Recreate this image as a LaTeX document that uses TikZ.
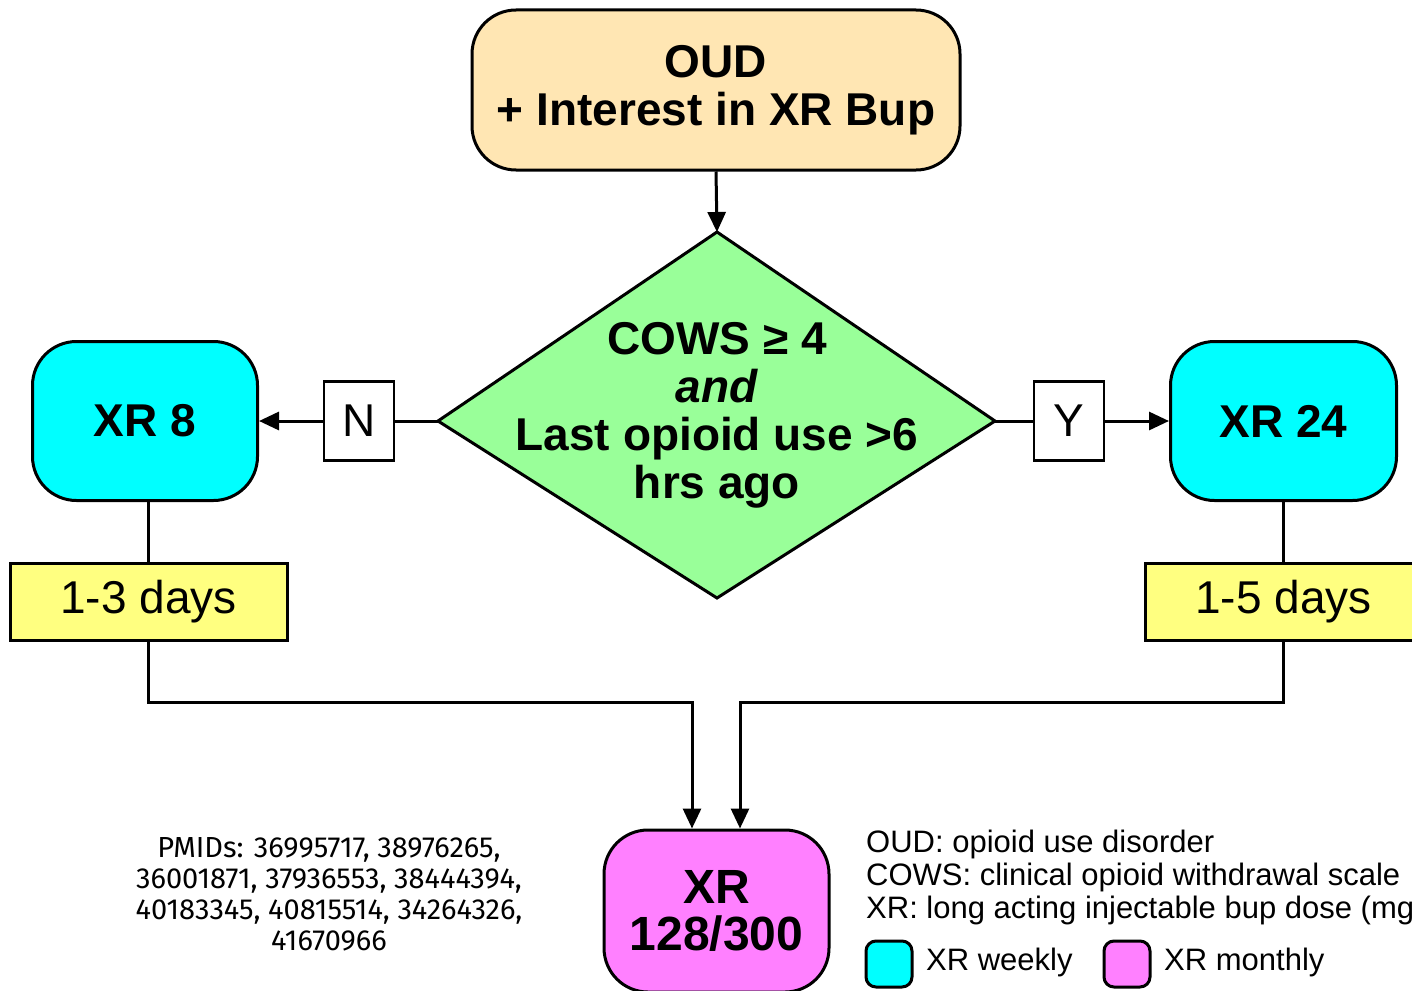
\documentclass[tikz,border=0pt]{standalone}
\usepackage{fontspec}
\setmainfont{Liberation Sans}
\newfontfamily\pmidfont{Fira Sans}
\usetikzlibrary{shapes.geometric,arrows.meta}
\definecolor{peach}{HTML}{FFE6B3}
\definecolor{dgreen}{HTML}{99FF99}
\definecolor{xcyan}{HTML}{00FFFF}
\definecolor{xyellow}{HTML}{FFFF80}
\definecolor{xmag}{HTML}{FF80FF}
\begin{document}
\begin{tikzpicture}[x=1pt,y=-1pt,
  conn/.style={line width=3pt},
  arr/.style={line width=3pt,-{Triangle[length=20pt,width=18pt]}},
  bigbox/.style={draw, line width=3pt, rounded corners=44pt, inner sep=0pt, align=center,
     font=\fontsize{46}{48}\selectfont\bfseries},
  daybox/.style={draw, line width=3pt, fill=xyellow, inner sep=0pt, minimum width=277pt, minimum height=77pt,
     font=\fontsize{46}{48}\selectfont},
  ynbox/.style={draw, line width=2.5pt, fill=white, inner sep=0pt, minimum width=70pt, minimum height=79pt,
     font=\fontsize{46}{48}\selectfont},
  legsq/.style={draw, line width=3pt, rounded corners=10pt, minimum width=46pt, minimum height=46pt, inner sep=0pt}
]
\clip (0,0) rectangle (1412,990);
\fill[white] (0,0) rectangle (1412,990);

% nodes
\node[bigbox, fill=peach, minimum width=488pt, minimum height=160pt] (top) at (716,90)
  {OUD\\+ Interest in XR Bup};

% decision diamond
\coordinate (dT) at (717,232);
\coordinate (dR) at (995,421);
\coordinate (dB) at (717,598);
\coordinate (dL) at (438,421);
\draw[line width=3pt, line join=miter, fill=dgreen] (dT) -- (dR) -- (dB) -- (dL) -- cycle;
\node[align=center, font=\fontsize{46}{48}\selectfont\bfseries] (diatext) at (717,415)
  {COWS ≥ 4\\\textit{and}\\Last opioid use >6\\hrs ago};

\node[ynbox] (n) at (359,421) {N};
\node[ynbox] (y) at (1069,421) {Y};
\node[bigbox, fill=xcyan, minimum width=225pt, minimum height=159pt] (xr8) at (145,421) {XR 8};
\node[bigbox, fill=xcyan, minimum width=226pt, minimum height=159pt] (xr24) at (1283.5,421) {XR 24};
\node[daybox] (d13) at (148.5,601.5) {1-3 days};
\node[daybox] (d15) at (1283.5,601.5) {1-5 days};
\node[bigbox, fill=xmag, minimum width=225pt, minimum height=162pt, font=\fontsize{48}{47}\selectfont\bfseries] (xrm) at (716.5,911) {XR\\128/300};

\coordinate (jl) at (692,702);
\coordinate (jr) at (740,702);

% connectors
\draw[arr] (top.south) -- (dT);
\draw[conn] (dL) -- (n.east);
\draw[arr] (n.west) -- (xr8.east);
\draw[conn] (dR) -- (y.west);
\draw[arr] (y.east) -- (xr24.west);
\draw[conn] (d13.north) -- (d13.north |- xr8.south);
\draw[conn] (d15.north) -- (d15.north |- xr24.south);
\draw[arr] (d13.south) |- (jl) -- (jl |- xrm.north);
\draw[arr] (d15.south) |- (jr) -- (jr |- xrm.north);

% PMIDs
\node[align=center, font=\pmidfont\fontsize{29}{31}\selectfont] (pmid) at (329,894)
  {PMIDs: 36995717, 38976265,\\36001871, 37936553, 38444394,\\40183345, 40815514, 34264326,\\41670966};

% legend
\node[anchor=north west, align=left, inner sep=0pt, font=\fontsize{31}{33}\selectfont] (abbr) at (866,830)
  {OUD: opioid use disorder\\COWS: clinical opioid withdrawal scale\\XR: long acting injectable bup dose (mg)};
\node[legsq, fill=xcyan] (lc) at (889,964) {};
\node[anchor=west, inner sep=0pt, font=\fontsize{31}{33}\selectfont] (lct) at (926,962) {XR weekly};
\node[legsq, fill=xmag] (lm) at (1127,964) {};
\node[anchor=west, inner sep=0pt, font=\fontsize{31}{33}\selectfont] (lmt) at (1164,962) {XR monthly};
\end{tikzpicture}
\end{document}
